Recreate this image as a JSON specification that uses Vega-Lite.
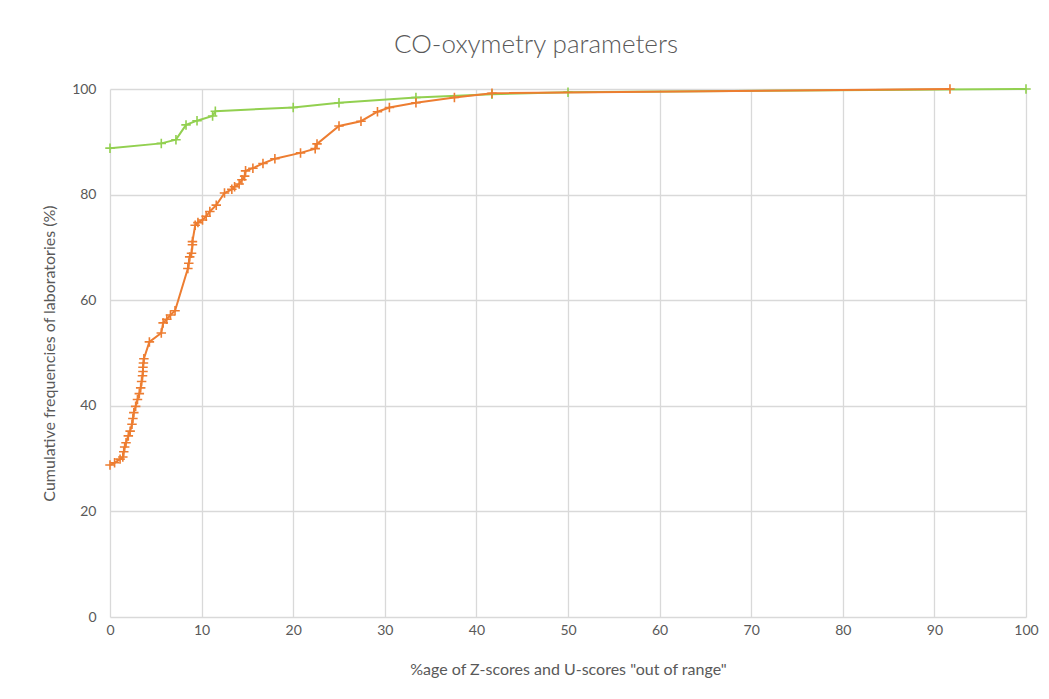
{
  "$schema": "https://vega.github.io/schema/vega-lite/v6.json",
  "width": 916,
  "height": 528,
  "autosize": {"type": "none"},
  "padding": {"left": 110, "top": 89, "right": 23, "bottom": 82},
  "background": "white",
  "title": {
    "text": "CO-oxymetry parameters",
    "font": "Lato",
    "fontSize": 26,
    "fontWeight": 300,
    "color": "#595959",
    "offset": 23,
    "dx": -32,
    "anchor": "middle"
  },
  "config": {
    "view": {"stroke": null},
    "axis": {
      "labelFont": "Lato",
      "titleFont": "Lato",
      "labelFontSize": 14,
      "titleFontSize": 16,
      "titleFontWeight": "normal",
      "labelColor": "#595959",
      "titleColor": "#595959",
      "gridColor": "#D9D9D9",
      "gridWidth": 1.3,
      "domain": false,
      "ticks": false,
      "labelFlush": false
    }
  },
  "datasets": {
    "series": [
      {"s": "A", "i": 1, "x": 0, "y": 28.8},
      {"s": "A", "i": 2, "x": 0.5, "y": 29.2},
      {"s": "A", "i": 3, "x": 1.1, "y": 29.9},
      {"s": "A", "i": 4, "x": 1.4, "y": 30.3},
      {"s": "A", "i": 5, "x": 1.5, "y": 31.3},
      {"s": "A", "i": 6, "x": 1.6, "y": 32.2},
      {"s": "A", "i": 7, "x": 1.75, "y": 33.0},
      {"s": "A", "i": 8, "x": 2.0, "y": 34.3},
      {"s": "A", "i": 9, "x": 2.2, "y": 35.2},
      {"s": "A", "i": 10, "x": 2.4, "y": 36.5},
      {"s": "A", "i": 11, "x": 2.5, "y": 37.6},
      {"s": "A", "i": 12, "x": 2.6, "y": 38.7},
      {"s": "A", "i": 13, "x": 2.8, "y": 39.9},
      {"s": "A", "i": 14, "x": 3.0, "y": 41.2},
      {"s": "A", "i": 15, "x": 3.2, "y": 42.3},
      {"s": "A", "i": 16, "x": 3.35, "y": 43.4},
      {"s": "A", "i": 17, "x": 3.45, "y": 44.6},
      {"s": "A", "i": 18, "x": 3.55, "y": 45.7},
      {"s": "A", "i": 19, "x": 3.6, "y": 46.5},
      {"s": "A", "i": 20, "x": 3.6, "y": 47.3},
      {"s": "A", "i": 21, "x": 3.65, "y": 48.1},
      {"s": "A", "i": 22, "x": 3.7, "y": 48.9},
      {"s": "A", "i": 23, "x": 4.3, "y": 52.1},
      {"s": "A", "i": 24, "x": 5.6, "y": 53.8},
      {"s": "A", "i": 25, "x": 5.8, "y": 55.7},
      {"s": "A", "i": 26, "x": 6.2, "y": 56.4},
      {"s": "A", "i": 27, "x": 6.6, "y": 57.2},
      {"s": "A", "i": 28, "x": 7.1, "y": 58.0},
      {"s": "A", "i": 29, "x": 8.5, "y": 66.0},
      {"s": "A", "i": 30, "x": 8.6, "y": 67.0},
      {"s": "A", "i": 31, "x": 8.7, "y": 68.2},
      {"s": "A", "i": 32, "x": 8.9, "y": 68.9},
      {"s": "A", "i": 33, "x": 9.0, "y": 70.5},
      {"s": "A", "i": 34, "x": 9.0, "y": 71.1},
      {"s": "A", "i": 35, "x": 9.3, "y": 74.2},
      {"s": "A", "i": 36, "x": 9.6, "y": 74.7},
      {"s": "A", "i": 37, "x": 10.1, "y": 75.2},
      {"s": "A", "i": 38, "x": 10.5, "y": 75.9},
      {"s": "A", "i": 39, "x": 10.9, "y": 76.8},
      {"s": "A", "i": 40, "x": 11.6, "y": 78.0},
      {"s": "A", "i": 41, "x": 12.5, "y": 80.3},
      {"s": "A", "i": 42, "x": 13.3, "y": 81.0},
      {"s": "A", "i": 43, "x": 13.6, "y": 81.5},
      {"s": "A", "i": 44, "x": 14.1, "y": 82.0},
      {"s": "A", "i": 45, "x": 14.4, "y": 82.8},
      {"s": "A", "i": 46, "x": 14.7, "y": 83.5},
      {"s": "A", "i": 47, "x": 14.8, "y": 84.5},
      {"s": "A", "i": 48, "x": 15.6, "y": 85.0},
      {"s": "A", "i": 49, "x": 16.7, "y": 85.9},
      {"s": "A", "i": 50, "x": 18.0, "y": 86.8},
      {"s": "A", "i": 51, "x": 20.8, "y": 87.9},
      {"s": "A", "i": 52, "x": 22.4, "y": 88.7},
      {"s": "A", "i": 53, "x": 22.6, "y": 89.6},
      {"s": "A", "i": 54, "x": 25.0, "y": 93.0},
      {"s": "A", "i": 55, "x": 27.4, "y": 93.9},
      {"s": "A", "i": 56, "x": 29.2, "y": 95.7},
      {"s": "A", "i": 57, "x": 30.5, "y": 96.5},
      {"s": "A", "i": 58, "x": 33.4, "y": 97.4},
      {"s": "A", "i": 59, "x": 37.6, "y": 98.4},
      {"s": "A", "i": 60, "x": 41.7, "y": 99.2},
      {"s": "A", "i": 61, "x": 91.7, "y": 100},
      {"s": "B", "i": 1, "x": 0, "y": 88.8},
      {"s": "B", "i": 2, "x": 5.6, "y": 89.7},
      {"s": "B", "i": 3, "x": 7.2, "y": 90.4},
      {"s": "B", "i": 4, "x": 8.3, "y": 93.2},
      {"s": "B", "i": 5, "x": 9.5, "y": 94.0},
      {"s": "B", "i": 6, "x": 11.2, "y": 94.9},
      {"s": "B", "i": 7, "x": 11.5, "y": 95.8},
      {"s": "B", "i": 8, "x": 20.0, "y": 96.5},
      {"s": "B", "i": 9, "x": 25.0, "y": 97.4},
      {"s": "B", "i": 10, "x": 33.4, "y": 98.4},
      {"s": "B", "i": 11, "x": 41.7, "y": 99.0},
      {"s": "B", "i": 12, "x": 50.0, "y": 99.4},
      {"s": "B", "i": 13, "x": 100, "y": 100}
    ]
  },
  "data": {"name": "series"},
  "encoding": {
    "x": {
      "field": "x",
      "type": "quantitative",
      "scale": {"domain": [0, 100], "nice": false},
      "axis": {
        "values": [0, 10, 20, 30, 40, 50, 60, 70, 80, 90, 100],
        "title": "%age of Z-scores and U-scores \"out of range\"",
        "labelPadding": 6,
        "titlePadding": 24
      }
    },
    "y": {
      "field": "y",
      "type": "quantitative",
      "scale": {"domain": [0, 100], "nice": false},
      "axis": {
        "values": [0, 20, 40, 60, 80, 100],
        "title": "Cumulative frequencies of laboratories (%)",
        "labelPadding": 14,
        "titlePadding": 14
      }
    },
    "order": {"field": "i", "type": "quantitative"},
    "color": {
      "field": "s",
      "type": "nominal",
      "scale": {"domain": ["B", "A"], "range": ["#92D050", "#ED7D31"]},
      "legend": null
    }
  },
  "layer": [
    {
      "transform": [{"filter": "datum.s === 'B'"}],
      "layer": [
        {"mark": {"type": "line", "strokeWidth": 2}},
        {"mark": {"type": "point", "shape": "M-1,0L1,0M0,-1L0,1", "filled": false, "size": 90, "strokeWidth": 1.6, "opacity": 1}}
      ]
    },
    {
      "transform": [{"filter": "datum.s === 'A'"}],
      "layer": [
        {"mark": {"type": "line", "strokeWidth": 2}},
        {"mark": {"type": "point", "shape": "M-1,0L1,0M0,-1L0,1", "filled": false, "size": 90, "strokeWidth": 1.6, "opacity": 1}}
      ]
    }
  ]
}
